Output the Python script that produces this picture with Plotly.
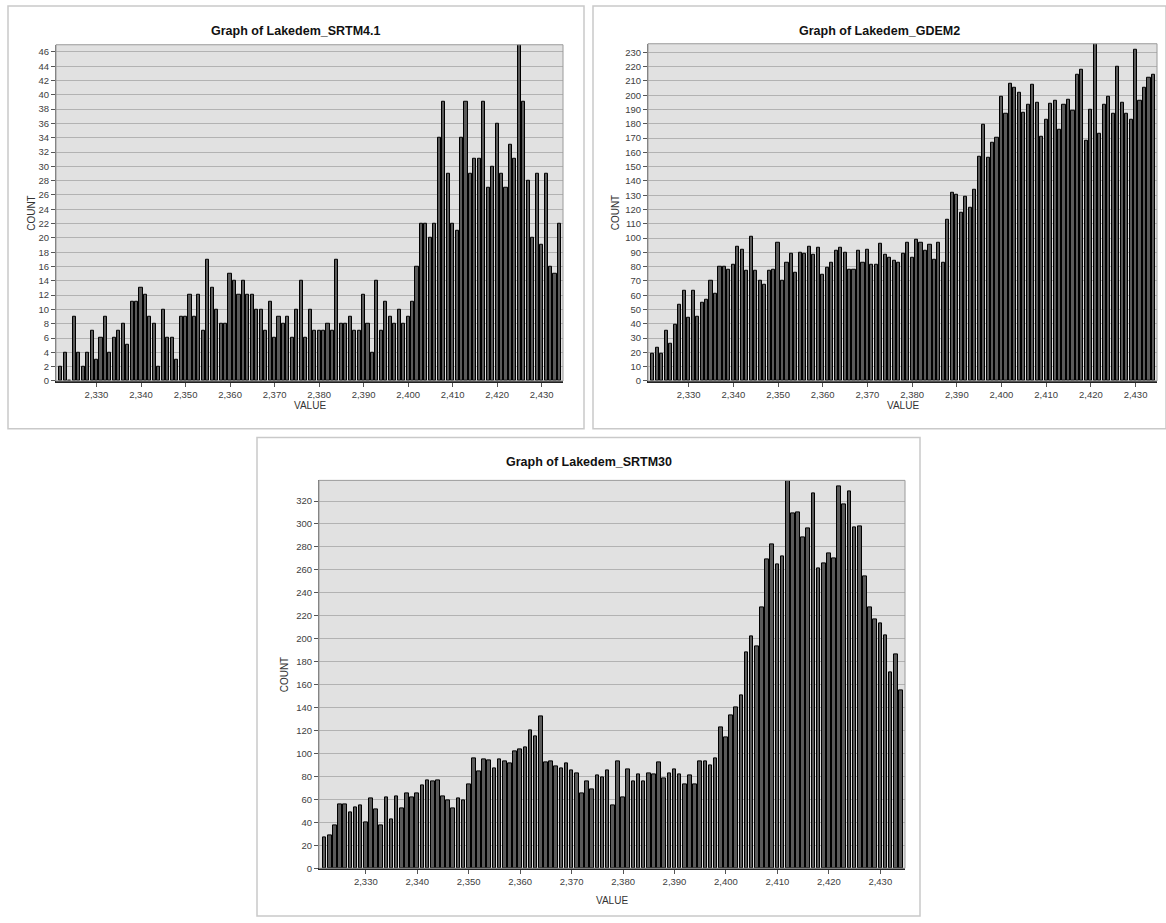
import plotly.graph_objects as go

W, H = 1166, 923

# Elevation bins (one bar per metre)
values = list(range(2322, 2435))

srtm41 = [
    2, 4, 0, 9, 4, 2, 4, 7, 3, 6,
    9, 4, 6, 7, 8, 5, 11, 11, 13, 12,
    9, 8, 2, 10, 6, 6, 3, 9, 9, 12,
    9, 12, 7, 17, 13, 10, 8, 8, 15, 14,
    12, 14, 12, 12, 10, 10, 7, 11, 6, 9,
    8, 9, 6, 10, 14, 6, 10, 7, 7, 7,
    8, 7, 17, 8, 8, 9, 7, 7, 12, 8,
    4, 14, 7, 11, 9, 8, 10, 8, 9, 11,
    16, 22, 22, 20,
    22, 34, 39, 29, 22, 21, 34, 39, 29, 31,
    31, 39, 27, 30, 36, 29, 27, 33, 31, 47,
    39, 28, 20, 29, 19, 29, 16, 15, 22,
]

gdem2 = [
    19, 23, 19, 35, 26, 39, 53, 63, 44, 63,
    45, 55, 57, 70, 61, 80, 80, 78, 81, 94,
    92, 77, 101, 77, 70, 67, 77, 78, 97, 70,
    83, 89, 76, 90, 89, 94, 88, 93, 74, 79,
    83, 91, 93, 90, 78, 78, 91, 83, 92, 81,
    81, 96, 88, 86, 84, 83, 89, 97, 86, 99,
    97, 91, 95, 85, 97, 83, 113, 132, 130, 118,
    129, 121, 134, 157, 179, 156, 167, 170, 199, 187,
    208, 205, 202, 188, 193, 207, 195, 171, 183, 194,
    196, 176, 193, 197, 189, 214, 218, 168, 190, 236,
    173, 193, 199, 187, 220, 195, 187, 183, 232, 196,
    205, 212, 214,
]

srtm30 = [
    27, 29, 37, 56, 56, 49, 53, 55, 40, 61,
    51, 37, 62, 43, 63, 52, 65, 62, 65, 72,
    77, 76, 77, 63, 59, 52, 61, 59, 73, 96,
    84, 95, 94, 87, 95, 93, 91, 102, 104, 105,
    120, 115, 132, 92, 93, 89, 87, 91, 85, 83,
    65, 76, 69, 81, 79, 85, 55, 93, 62, 86,
    76, 82, 76, 83, 82, 92, 78, 83, 86, 82,
    73, 81, 73, 93, 93, 90, 96, 123, 114, 133,
    140, 151, 188, 202, 193, 227, 269, 282, 265, 272,
    338, 309, 310, 288, 296, 327, 261, 266, 274, 270,
    333, 317, 328, 297, 298, 254, 227, 217, 213, 203,
    171, 186, 155,
]

x_ticks = list(range(2330, 2431, 10))
x_ticklabels = [f"{v:,}" for v in x_ticks]

titles = ["Graph of Lakedem_SRTM4.1", "Graph of Lakedem_GDEM2", "Graph of Lakedem_SRTM30"]
series = [srtm41, gdem2, srtm30]
y_max = [47, 236, 338]
y_step = [2, 10, 20]

# pixel boxes: outer frame and plotting area (left, top, right, bottom)
frames = [(8, 6, 584, 431), (593, 6, 1166, 431), (257, 440, 920, 921)]
plots = [(56, 45, 563, 383), (648, 44, 1157, 383), (319, 483, 905, 873)]
title_y = [31, 31, 465]
count_x = [32, 615, 284]
value_y = [408, 408, 905]

FONT = "Liberation Sans, Arial, sans-serif"


def fx(px):
    return px / W


def fy(py):
    return 1 - py / H


fig = go.Figure()
shapes = []
annotations = []

for i in range(3):
    n = "" if i == 0 else str(i + 1)
    L, T, R, B = plots[i]
    fig.add_trace(go.Bar(
        x=values, y=series[i], width=0.7,
        marker=dict(color="#5a5a5a", line=dict(color="#000000", width=1)),
        xaxis="x" + n, yaxis="y" + n, showlegend=False,
        hovertemplate="%{x}: %{y}<extra></extra>",
    ))
    fig.layout["xaxis" + n] = dict(
        domain=[fx(L), fx(R)], anchor="y" + n, range=[2320.9, 2434.8],
        tickmode="array", tickvals=x_ticks, ticktext=x_ticklabels,
        ticks="outside", ticklen=4, tickcolor="#555555",
        showgrid=False, zeroline=False, showline=True, linecolor="#222222", linewidth=1.5,
        tickfont=dict(family=FONT, size=9.5, color="#404040"), fixedrange=True,
    )
    fig.layout["yaxis" + n] = dict(
        domain=[fy(B), fy(T)], anchor="x" + n, range=[0, y_max[i]],
        tickmode="linear", tick0=0, dtick=y_step[i],
        ticks="outside", ticklen=4, tickcolor="#555555",
        showgrid=True, gridcolor="#b2b2b2", gridwidth=1.3,
        zeroline=False, showline=True, linecolor="#6e6e6e", linewidth=1,
        tickfont=dict(family=FONT, size=9.5, color="#404040"), fixedrange=True,
    )
    # light border around the plotting area
    shapes.append(dict(type="rect", xref="paper", yref="paper",
                       x0=fx(L), x1=fx(R), y0=fy(B), y1=fy(T),
                       line=dict(color="#9a9a9a", width=1), fillcolor="rgba(0,0,0,0)"))
    # panel frame
    fL, fT, fR, fB = frames[i]
    shapes.append(dict(type="rect", xref="paper", yref="paper",
                       x0=fx(fL), x1=fx(fR), y0=fy(fB), y1=fy(fT),
                       line=dict(color="#c9c9c9", width=1.5), fillcolor="rgba(0,0,0,0)"))
    annotations.append(dict(text="<b>" + titles[i] + "</b>", xref="paper", yref="paper",
                            x=fx((fL + fR) / 2), y=fy(title_y[i]), showarrow=False,
                            xanchor="center", yanchor="middle",
                            font=dict(family=FONT, size=12.5, color="#111111")))
    annotations.append(dict(text="COUNT", xref="paper", yref="paper", textangle=-90,
                            x=fx(count_x[i]), y=fy((T + B) / 2), showarrow=False,
                            xanchor="center", yanchor="middle",
                            font=dict(family=FONT, size=10, color="#333333")))
    annotations.append(dict(text="VALUE", xref="paper", yref="paper",
                            x=fx((L + R) / 2), y=fy(value_y[i]), showarrow=False,
                            xanchor="center", yanchor="middle",
                            font=dict(family=FONT, size=10, color="#333333")))

fig.update_layout(
    width=W, height=H, margin=dict(l=0, r=0, t=0, b=0),
    paper_bgcolor="white", plot_bgcolor="#e1e1e1",
    bargap=0, shapes=shapes, annotations=annotations,
)

fig.write_html("out.html")
